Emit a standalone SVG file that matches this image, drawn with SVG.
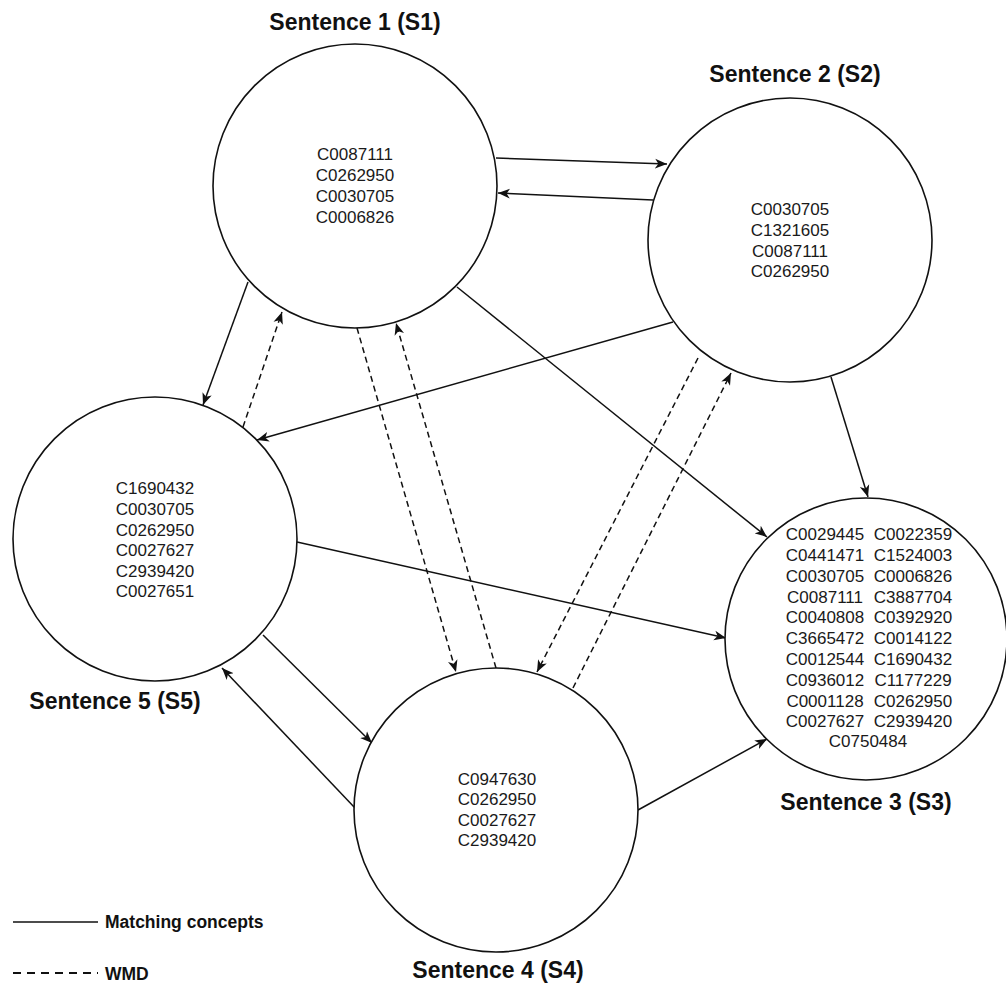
<svg xmlns="http://www.w3.org/2000/svg" width="1006" height="985" viewBox="0 0 1006 985">
  <defs>
    <style>
      .node { fill: #ffffff; stroke: #111111; stroke-width: 1.6; }
      .title { font-family: "Liberation Sans", Arial, sans-serif; font-weight: bold; font-size: 23px; fill: #111111; text-anchor: middle; }
      .concept { font-family: "Liberation Sans", Arial, sans-serif; font-size: 17px; fill: #1a1a1a; text-anchor: middle; }
      .legend { font-family: "Liberation Sans", Arial, sans-serif; font-weight: bold; font-size: 17.5px; fill: #111111; }
      .match { fill: none; stroke: #111111; stroke-width: 1.5; marker-end: url(#arrow); }
      .wmd { fill: none; stroke: #111111; stroke-width: 1.5; stroke-dasharray: 6 4; marker-end: url(#arrow); }
    </style>
    <marker id="arrow" viewBox="0 0 12 10" refX="11" refY="5" markerWidth="13" markerHeight="11" markerUnits="userSpaceOnUse" orient="auto">
      <path d="M0,0.5 L11,5 L0,9.5 L3,5 Z" fill="#111111"/>
    </marker>
  </defs>

  <rect width="1006" height="985" fill="#ffffff"/>

  <!-- connectors -->
  <g id="connectors">
    <!-- matching concepts -->
    <line class="match" x1="496" y1="158" x2="667" y2="164"/>
    <line class="match" x1="653" y1="200" x2="498" y2="193"/>
    <line class="match" x1="248" y1="282" x2="203" y2="405"/>
    <line class="match" x1="673" y1="322" x2="257" y2="440"/>
    <line class="match" x1="457" y1="287" x2="767" y2="537"/>
    <line class="match" x1="831" y1="377" x2="868" y2="497"/>
    <line class="match" x1="297" y1="542" x2="726" y2="638"/>
    <line class="match" x1="263" y1="635" x2="372" y2="743"/>
    <line class="match" x1="355" y1="808" x2="222" y2="668"/>
    <line class="match" x1="638" y1="810" x2="767" y2="739"/>
    <!-- WMD -->
    <line class="wmd" x1="243" y1="427" x2="282" y2="312"/>
    <line class="wmd" x1="357" y1="328" x2="456" y2="672"/>
    <line class="wmd" x1="496" y1="668" x2="396" y2="323"/>
    <line class="wmd" x1="698" y1="358" x2="537" y2="672"/>
    <line class="wmd" x1="573" y1="688" x2="731" y2="373"/>
  </g>

  <!-- Sentence 1 -->
  <g id="s1">
    <circle class="node" cx="355" cy="186" r="142"/>
    <text class="title" x="355" y="30">Sentence 1 (S1)</text>
    <text class="concept" x="355" y="160">C0087111</text>
    <text class="concept" x="355" y="181">C0262950</text>
    <text class="concept" x="355" y="202">C0030705</text>
    <text class="concept" x="355" y="223">C0006826</text>
  </g>

  <!-- Sentence 2 -->
  <g id="s2">
    <circle class="node" cx="790" cy="240" r="142"/>
    <text class="title" x="795" y="82">Sentence 2 (S2)</text>
    <text class="concept" x="790" y="215">C0030705</text>
    <text class="concept" x="790" y="236">C1321605</text>
    <text class="concept" x="790" y="257">C0087111</text>
    <text class="concept" x="790" y="277">C0262950</text>
  </g>

  <!-- Sentence 3 -->
  <g id="s3">
    <circle class="node" cx="866" cy="639" r="141"/>
    <text class="title" x="866" y="810">Sentence 3 (S3)</text>
    <text class="concept" x="825" y="540">C0029445</text>
    <text class="concept" x="913" y="540">C0022359</text>
    <text class="concept" x="825" y="561">C0441471</text>
    <text class="concept" x="913" y="561">C1524003</text>
    <text class="concept" x="825" y="582">C0030705</text>
    <text class="concept" x="913" y="582">C0006826</text>
    <text class="concept" x="825" y="603">C0087111</text>
    <text class="concept" x="913" y="603">C3887704</text>
    <text class="concept" x="825" y="623">C0040808</text>
    <text class="concept" x="913" y="623">C0392920</text>
    <text class="concept" x="825" y="644">C3665472</text>
    <text class="concept" x="913" y="644">C0014122</text>
    <text class="concept" x="825" y="665">C0012544</text>
    <text class="concept" x="913" y="665">C1690432</text>
    <text class="concept" x="825" y="686">C0936012</text>
    <text class="concept" x="913" y="686">C1177229</text>
    <text class="concept" x="825" y="707">C0001128</text>
    <text class="concept" x="913" y="707">C0262950</text>
    <text class="concept" x="825" y="727">C0027627</text>
    <text class="concept" x="913" y="727">C2939420</text>
    <text class="concept" x="868" y="747">C0750484</text>
  </g>

  <!-- Sentence 4 -->
  <g id="s4">
    <circle class="node" cx="496" cy="810" r="142"/>
    <text class="title" x="498" y="978">Sentence 4 (S4)</text>
    <text class="concept" x="497" y="785">C0947630</text>
    <text class="concept" x="497" y="805">C0262950</text>
    <text class="concept" x="497" y="826">C0027627</text>
    <text class="concept" x="497" y="846">C2939420</text>
  </g>

  <!-- Sentence 5 -->
  <g id="s5">
    <circle class="node" cx="155" cy="539" r="142"/>
    <text class="title" x="115" y="709">Sentence 5 (S5)</text>
    <text class="concept" x="155" y="494">C1690432</text>
    <text class="concept" x="155" y="515">C0030705</text>
    <text class="concept" x="155" y="536">C0262950</text>
    <text class="concept" x="155" y="556">C0027627</text>
    <text class="concept" x="155" y="577">C2939420</text>
    <text class="concept" x="155" y="597">C0027651</text>
  </g>

  <!-- legend -->
  <g id="legend">
    <line x1="13" y1="922" x2="98" y2="922" stroke="#111111" stroke-width="1.6"/>
    <text class="legend" x="105" y="928">Matching concepts</text>
    <line x1="13" y1="973" x2="98" y2="973" stroke="#111111" stroke-width="2" stroke-dasharray="8 6"/>
    <text class="legend" x="105" y="980">WMD</text>
  </g>
</svg>
